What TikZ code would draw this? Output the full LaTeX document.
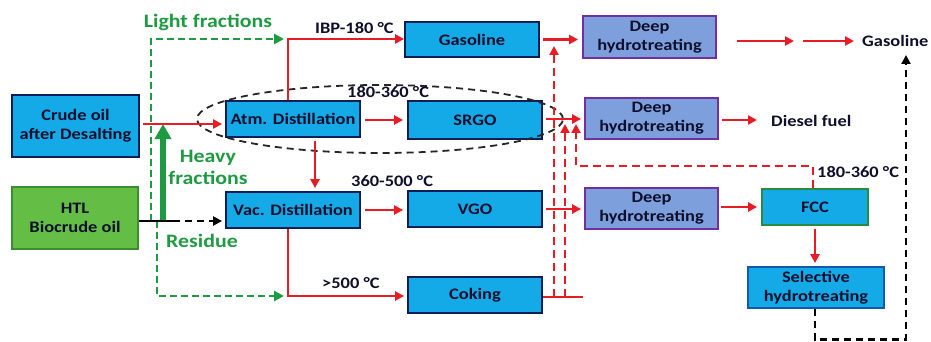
\documentclass[tikz,border=0pt]{standalone}
\usepackage{fontspec}
\setmainfont{Carlito}[FakeStretch=1.15]
\usetikzlibrary{arrows.meta,calc,shapes.geometric}
\definecolor{bxblue}{RGB}{20,170,232}
\definecolor{navy}{RGB}{10,30,90}
\definecolor{dhfill}{RGB}{125,160,220}
\definecolor{dhpurple}{RGB}{112,48,160}
\definecolor{htlfill}{RGB}{100,190,70}
\definecolor{htlborder}{RGB}{60,140,50}
\definecolor{fccborder}{RGB}{40,140,60}
\definecolor{selborder}{RGB}{20,90,170}
\definecolor{flowred}{RGB}{232,28,36}
\definecolor{lblgreen}{RGB}{30,155,65}
\definecolor{txtdark}{RGB}{15,15,45}
\tikzset{
  box/.style={draw=navy, fill=bxblue, line width=1.8pt, inner sep=0pt, align=center,
    text=txtdark, font=\fontsize{16}{19}\selectfont\bfseries},
  dhbox/.style={box, draw=dhpurple, fill=dhfill},
  lbl/.style={inner sep=0pt, text=txtdark, font=\fontsize{16}{19}\selectfont\bfseries},
  glbl/.style={inner sep=0pt, text=lblgreen, align=center, font=\fontsize{19}{22}\selectfont\bfseries},
  redflow/.style={draw=flowred, line width=2.4pt},
  redarrow/.style={redflow, -{Triangle[length=9pt,width=9pt]}},
  reddash/.style={redflow, dash pattern=on 8pt off 5pt, -{Triangle[length=9pt,width=9pt]}},
  gdash/.style={draw=lblgreen, line width=2.8pt, dash pattern=on 7pt off 4pt, -{Triangle[length=10pt,width=10pt]}},
  blkdash/.style={draw=black, line width=2.4pt, dash pattern=on 7pt off 5pt, -{Triangle[length=9pt,width=9pt]}},
}
\begin{document}
\begin{tikzpicture}[x=1pt,y=-1pt]
\useasboundingbox (0,0) rectangle (931,342);
% boxes
\node[box, minimum width=127pt, minimum height=62pt] (crude) at (75.5,126) {Crude oil\\after Desalting};
\node[box, draw=htlborder, fill=htlfill, minimum width=126pt, minimum height=62pt] (htl) at (75,218) {HTL\\Biocrude oil};
\node[box, minimum width=134pt, minimum height=35pt] (gas) at (472,39.5) {Gasoline};
\node[box, minimum width=134pt, minimum height=36pt] (atm) at (293,119) {Atm. Distillation};
\node[box, minimum width=134pt, minimum height=38pt] (srgo) at (475,120) {SRGO};
\node[box, minimum width=134pt, minimum height=36pt] (vac) at (293,210) {Vac. Distillation};
\node[box, minimum width=134pt, minimum height=36pt] (vgo) at (475,209) {VGO};
\node[box, minimum width=134pt, minimum height=36pt] (cok) at (475,295) {Coking};
\node[dhbox, minimum width=133pt, minimum height=42pt] (dh1) at (649.5,37) {Deep\\hydrotreating};
\node[dhbox, minimum width=133pt, minimum height=41pt] (dh2) at (651.5,118.5) {Deep\\hydrotreating};
\node[dhbox, minimum width=133pt, minimum height=41pt] (dh3) at (651.5,208.5) {Deep\\hydrotreating};
\node[box, draw=fccborder, minimum width=106pt, minimum height=36pt] (fcc) at (815,207) {FCC};
\node[box, draw=selborder, minimum width=136pt, minimum height=41pt] (sel) at (816,287.5) {Selective\\hydrotreating};
% ellipse
\node[draw=black!85, line width=1.8pt, dash pattern=on 7pt off 5pt, ellipse, minimum width=366pt, minimum height=68pt, inner sep=0pt] (ell) at (380,119) {};
% labels
\node[glbl] (lf) at (208,22) {Light fractions};
\node[glbl] (hf) at (208,167) {Heavy\\fractions};
\node[glbl] (res) at (202,241) {Residue};
\node[lbl, anchor=west] (t1) at (315,28) {IBP-180 °C};
\node[lbl, anchor=west] (t2) at (347,92) {180-360 °C};
\node[lbl, anchor=west] (t3) at (351,181) {360-500 °C};
\node[lbl, anchor=west] (t4) at (322,283) {>500 °C};
\node[lbl, anchor=west] (gasout) at (862,41) {Gasoline};
\node[lbl, anchor=west] (diesel) at (771,121) {Diesel fuel};
\node[lbl, anchor=west] (t5) at (817,172) {180-360 °C};
% coordinates
\coordinate (jtop) at (288,39);
\coordinate (jbot) at (288,296);
\coordinate (hjoin) at (173,221);
% crude -> atm
\draw[redarrow] ($(crude.east)+(3,-2)$) -- ($(atm.west |- 0,124)+(-3,0)$);
% green dashed
\draw[gdash] (151,221) -- (151,39) -- ($(jtop)+(-4,0)$);
\draw[gdash] (157,221) -- (157,296) -- ($(jbot)+(-4,0)$);
% heavy fractions thick arrow
\draw[draw=lblgreen, line width=5.5pt, -{Triangle[length=15pt,width=16pt]}] (163,222) -- (163,124);
% htl -> vac
\draw[black, line width=2.4pt] (htl.east |- hjoin) -- (hjoin);
\draw[black, line width=2.4pt, dash pattern=on 7pt off 5pt, -{Triangle[length=9pt,width=9pt]}] (hjoin) -- ($(vac.west |- hjoin)+(-3,0)$);
% atm outputs
\draw[redarrow] (atm.north -| jtop) -- (jtop) -- (gas.west |- jtop);
\draw[redarrow] (365,120) -- ($(srgo.west |- 0,120)+(-4,0)$);
\draw[redarrow] (315,141) -- ($(vac.north -| 315,0)+(0,-3)$);
% vac outputs
\draw[redarrow] (365,210) -- ($(vgo.west |- 0,210)+(-4,0)$);
\draw[redarrow] (vac.south -| jbot) -- (jbot) -- ($(cok.west |- jbot)+(-3,0)$);
% to hydrotreaters
\draw[redarrow] ($(gas.east)+(3,0)$) -- ($(dh1.west |- gas.east)+(-4,0)$);
\draw[redarrow] (546,119) -- ($(dh2.west |- 0,119)+(-3,0)$);
\draw[redarrow] (546,209) -- ($(dh3.west |- 0,209)+(-3,0)$);
\draw[redflow] (cok.east |- 0,297) -- (583,297);
% red dashed recycle
\draw[reddash] (554,297) -- (554,46);
\draw[reddash] (565,297) -- (565,124);
\draw[reddash] (fcc.north -| 813,0) -- (813,166) -- (576,166) -- (576,124);
% DH outputs
\draw[redarrow] (737,41) -- (794,41);
\draw[redarrow] (803,41) -- ($(gasout.west)+(-8,0)$);
\draw[redarrow] (722,120) -- ($(diesel.west)+(-14,-1)$);
\draw[redarrow] (721,207) -- ($(fcc.west |- 0,207)+(-4,0)$);
\draw[redarrow] (fcc.south -| 815,0) ++(0,3) -- ($(sel.north -| 815,0)+(0,-3)$);
% selective -> gasoline
\draw[blkdash] (sel.south -| 815,0) -- (815,339.5) -- (906,339.5) -- (906,55);
\end{tikzpicture}
\end{document}
